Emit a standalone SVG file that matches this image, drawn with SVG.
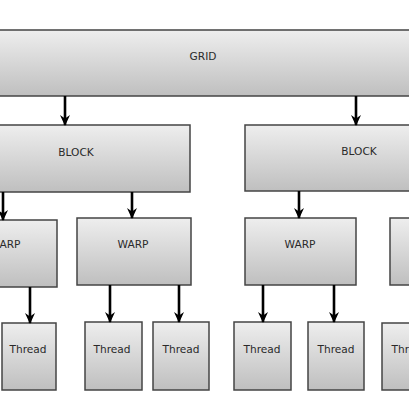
<svg xmlns="http://www.w3.org/2000/svg" width="409" height="409" viewBox="0 0 409 409">
<style>
.box{fill:url(#g);stroke:#444;stroke-width:1.5}
.t{font-family:"DejaVu Sans",Verdana,sans-serif;font-size:10.6px;fill:#2a2a2a;text-anchor:middle}
.c{stroke:#000;stroke-width:2.6;fill:none;marker-end:url(#a)}
</style>
<defs>
<linearGradient id="g" x1="0" y1="0" x2="0" y2="1">
<stop offset="0" stop-color="#eeeeee"/>
<stop offset="1" stop-color="#bfbfbf"/>
</linearGradient>
<marker id="a" markerWidth="11" markerHeight="11" refX="10" refY="5.5" orient="auto" markerUnits="userSpaceOnUse" viewBox="0 0 11 11">
<path d="M0,0.5 L3.5,5.5 L0,10.5 L11,5.5 Z" fill="#000"/>
</marker>
</defs>
<rect width="409" height="409" fill="#fff"/>
<g id="grid"><rect class="box" x="-10" y="30" width="430" height="66"/><text class="t" x="203" y="60">GRID</text></g>
<g id="block1"><rect class="box" x="-10" y="125" width="200" height="67"/><text class="t" x="76" y="156">BLOCK</text></g>
<g id="block2"><rect class="box" x="245" y="125" width="180" height="66"/><text class="t" x="359" y="155">BLOCK</text></g>
<g id="warp1"><rect class="box" x="-57" y="220" width="114" height="67"/><text class="t" x="5" y="248">WARP</text></g>
<g id="warp2"><rect class="box" x="77" y="218" width="114" height="67"/><text class="t" x="133" y="248">WARP</text></g>
<g id="warp3"><rect class="box" x="245" y="218" width="111" height="67"/><text class="t" x="300" y="248">WARP</text></g>
<g id="warp4"><rect class="box" x="390" y="218" width="111" height="67"/></g>
<g id="thread1"><rect class="box" x="2" y="323" width="54" height="67"/><text class="t" x="28" y="353">Thread</text></g>
<g id="thread2"><rect class="box" x="85" y="322" width="57" height="68"/><text class="t" x="112" y="353">Thread</text></g>
<g id="thread3"><rect class="box" x="153" y="322" width="56" height="68"/><text class="t" x="181" y="353">Thread</text></g>
<g id="thread4"><rect class="box" x="234" y="322" width="57" height="68"/><text class="t" x="262" y="353">Thread</text></g>
<g id="thread5"><rect class="box" x="308" y="322" width="56" height="68"/><text class="t" x="336" y="353">Thread</text></g>
<g id="thread6"><rect class="box" x="382" y="323" width="56" height="67"/><text class="t" x="410" y="353">Thread</text></g>
<g id="connectors">
<line class="c" x1="65" y1="96" x2="65" y2="125"/>
<line class="c" x1="356" y1="96" x2="356" y2="125"/>
<line class="c" x1="3" y1="192" x2="3" y2="220"/>
<line class="c" x1="132" y1="192" x2="132" y2="218"/>
<line class="c" x1="299" y1="191" x2="299" y2="218"/>
<line class="c" x1="30" y1="287" x2="30" y2="323"/>
<line class="c" x1="110" y1="285" x2="110" y2="322"/>
<line class="c" x1="179" y1="285" x2="179" y2="322"/>
<line class="c" x1="263" y1="285" x2="263" y2="322"/>
<line class="c" x1="334" y1="285" x2="334" y2="322"/>
</g>
</svg>
